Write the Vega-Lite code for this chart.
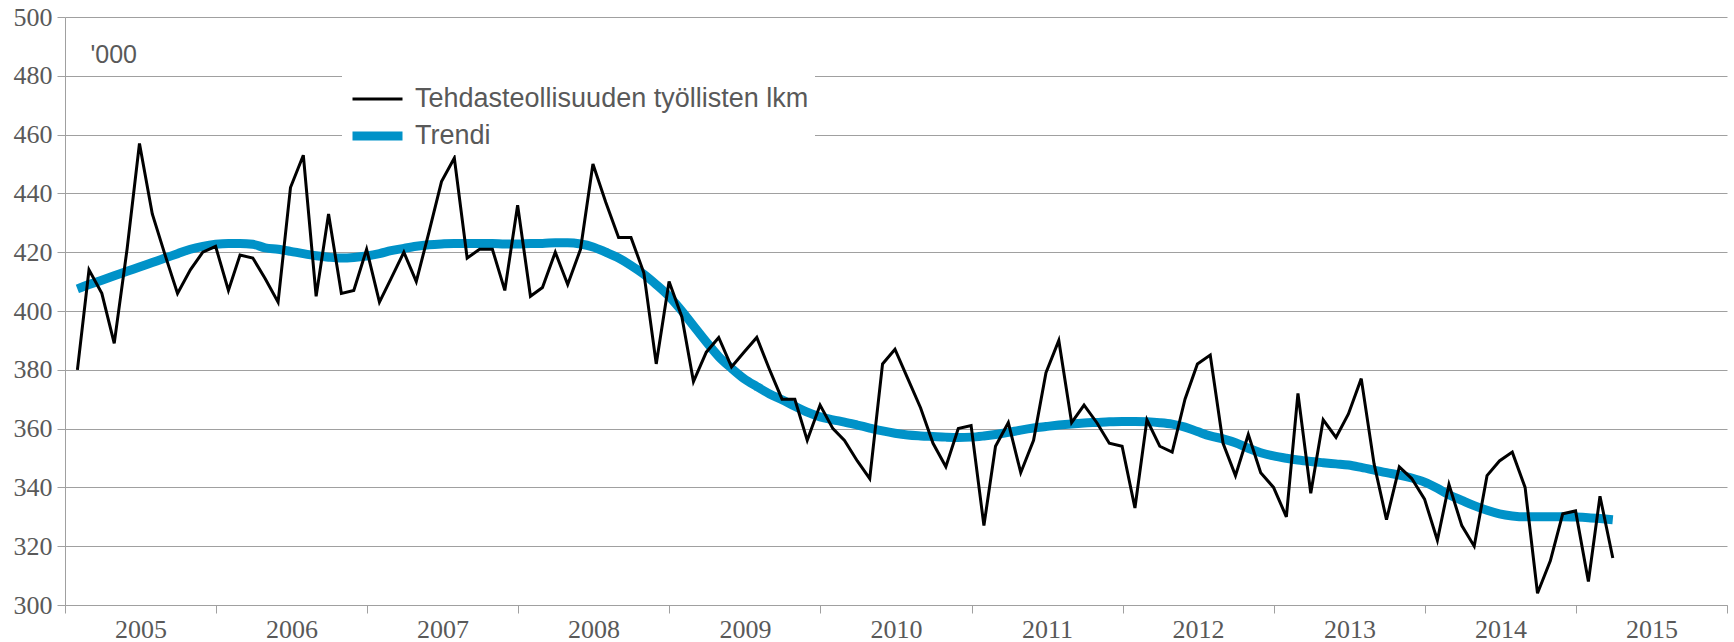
{
  "$schema": "https://vega.github.io/schema/vega-lite/v6.json",
  "width": 1662,
  "height": 588,
  "autosize": {"type": "none"},
  "padding": {"left": 65, "top": 17, "right": 7, "bottom": 37},
  "background": "white",
  "config": {
    "view": {"stroke": null},
    "axis": {"labelFont": "Liberation Serif", "labelFontSize": 26, "labelColor": "#595959", "domainColor": "#a0a0a0", "tickColor": "#a0a0a0", "gridColor": "#a0a0a0", "tickSize": 8}
  },
  "data": {"values": [
    {"date":"2005-01-31","lkm":380,"trendi":407.5},{"date":"2005-02-28","lkm":414,"trendi":409},{"date":"2005-03-31","lkm":406,"trendi":410.5},{"date":"2005-04-30","lkm":389,"trendi":412},{"date":"2005-05-31","lkm":421,"trendi":413.5},{"date":"2005-06-30","lkm":457,"trendi":415},{"date":"2005-07-31","lkm":433,"trendi":416.5},{"date":"2005-08-31","lkm":419,"trendi":418},{"date":"2005-09-30","lkm":406,"trendi":419.5},{"date":"2005-10-31","lkm":414,"trendi":421},{"date":"2005-11-30","lkm":420,"trendi":422},{"date":"2005-12-31","lkm":422,"trendi":422.7},
    {"date":"2006-01-31","lkm":407,"trendi":423},{"date":"2006-02-28","lkm":419,"trendi":423},{"date":"2006-03-31","lkm":418,"trendi":422.7},{"date":"2006-04-30","lkm":411,"trendi":421.5},{"date":"2006-05-31","lkm":403,"trendi":421},{"date":"2006-06-30","lkm":442,"trendi":420.3},{"date":"2006-07-31","lkm":453,"trendi":419.5},{"date":"2006-08-31","lkm":405,"trendi":418.8},{"date":"2006-09-30","lkm":433,"trendi":418.3},{"date":"2006-10-31","lkm":406,"trendi":418},{"date":"2006-11-30","lkm":407,"trendi":418.2},{"date":"2006-12-31","lkm":421,"trendi":418.7},
    {"date":"2007-01-31","lkm":403,"trendi":419.5},{"date":"2007-02-28","lkm":411,"trendi":420.5},{"date":"2007-03-31","lkm":420,"trendi":421.3},{"date":"2007-04-30","lkm":410,"trendi":422},{"date":"2007-05-31","lkm":427,"trendi":422.5},{"date":"2007-06-30","lkm":444,"trendi":422.8},{"date":"2007-07-31","lkm":452,"trendi":423},{"date":"2007-08-31","lkm":418,"trendi":423},{"date":"2007-09-30","lkm":421,"trendi":423},{"date":"2007-10-31","lkm":421,"trendi":423},{"date":"2007-11-30","lkm":407,"trendi":422.8},{"date":"2007-12-31","lkm":436,"trendi":422.8},
    {"date":"2008-01-31","lkm":405,"trendi":423},{"date":"2008-02-29","lkm":408,"trendi":423},{"date":"2008-03-31","lkm":420,"trendi":423.2},{"date":"2008-04-30","lkm":409,"trendi":423.2},{"date":"2008-05-31","lkm":421,"trendi":422.8},{"date":"2008-06-30","lkm":450,"trendi":421.8},{"date":"2008-07-31","lkm":437,"trendi":420},{"date":"2008-08-31","lkm":425,"trendi":418},{"date":"2008-09-30","lkm":425,"trendi":415.5},{"date":"2008-10-31","lkm":413,"trendi":412.5},{"date":"2008-11-30","lkm":382,"trendi":409},{"date":"2008-12-31","lkm":410,"trendi":405},
    {"date":"2009-01-31","lkm":398,"trendi":400},{"date":"2009-02-28","lkm":376,"trendi":395},{"date":"2009-03-31","lkm":386,"trendi":389.5},{"date":"2009-04-30","lkm":391,"trendi":384.5},{"date":"2009-05-31","lkm":381,"trendi":380.5},{"date":"2009-06-30","lkm":386,"trendi":377},{"date":"2009-07-31","lkm":391,"trendi":374.3},{"date":"2009-08-31","lkm":380,"trendi":371.8},{"date":"2009-09-30","lkm":370,"trendi":369.8},{"date":"2009-10-31","lkm":370,"trendi":367.6},{"date":"2009-11-30","lkm":356,"trendi":365.6},{"date":"2009-12-31","lkm":368,"trendi":364},
    {"date":"2010-01-31","lkm":360,"trendi":363},{"date":"2010-02-28","lkm":356,"trendi":362.2},{"date":"2010-03-31","lkm":349,"trendi":361.2},{"date":"2010-04-30","lkm":343,"trendi":360.2},{"date":"2010-05-31","lkm":382,"trendi":359.2},{"date":"2010-06-30","lkm":387,"trendi":358.4},{"date":"2010-07-31","lkm":377,"trendi":357.8},{"date":"2010-08-31","lkm":367,"trendi":357.5},{"date":"2010-09-30","lkm":355,"trendi":357.3},{"date":"2010-10-31","lkm":347,"trendi":357.1},{"date":"2010-11-30","lkm":360,"trendi":357},{"date":"2010-12-31","lkm":361,"trendi":357.1},
    {"date":"2011-01-31","lkm":327,"trendi":357.5},{"date":"2011-02-28","lkm":354,"trendi":358},{"date":"2011-03-31","lkm":362,"trendi":358.7},{"date":"2011-04-30","lkm":345,"trendi":359.5},{"date":"2011-05-31","lkm":356,"trendi":360.2},{"date":"2011-06-30","lkm":379,"trendi":360.7},{"date":"2011-07-31","lkm":390,"trendi":361.2},{"date":"2011-08-31","lkm":362,"trendi":361.6},{"date":"2011-09-30","lkm":368,"trendi":361.9},{"date":"2011-10-31","lkm":362,"trendi":362.1},{"date":"2011-11-30","lkm":355,"trendi":362.3},{"date":"2011-12-31","lkm":354,"trendi":362.4},
    {"date":"2012-01-31","lkm":333,"trendi":362.4},{"date":"2012-02-29","lkm":363,"trendi":362.3},{"date":"2012-03-31","lkm":354,"trendi":362},{"date":"2012-04-30","lkm":352,"trendi":361.5},{"date":"2012-05-31","lkm":370,"trendi":360.5},{"date":"2012-06-30","lkm":382,"trendi":359},{"date":"2012-07-31","lkm":385,"trendi":357.5},{"date":"2012-08-31","lkm":355,"trendi":356.5},{"date":"2012-09-30","lkm":344,"trendi":355.2},{"date":"2012-10-31","lkm":358,"trendi":353.3},{"date":"2012-11-30","lkm":345,"trendi":351.8},{"date":"2012-12-31","lkm":340,"trendi":350.7},
    {"date":"2013-01-31","lkm":330,"trendi":349.9},{"date":"2013-02-28","lkm":372,"trendi":349.3},{"date":"2013-03-31","lkm":338,"trendi":348.8},{"date":"2013-04-30","lkm":363,"trendi":348.4},{"date":"2013-05-31","lkm":357,"trendi":348},{"date":"2013-06-30","lkm":365,"trendi":347.6},{"date":"2013-07-31","lkm":377,"trendi":346.8},{"date":"2013-08-31","lkm":348,"trendi":345.9},{"date":"2013-09-30","lkm":329,"trendi":345},{"date":"2013-10-31","lkm":347,"trendi":344.2},{"date":"2013-11-30","lkm":343,"trendi":343.2},{"date":"2013-12-31","lkm":336,"trendi":341.8},
    {"date":"2014-01-31","lkm":322,"trendi":339.7},{"date":"2014-02-28","lkm":341,"trendi":337.5},{"date":"2014-03-31","lkm":327,"trendi":335.6},{"date":"2014-04-30","lkm":320,"trendi":333.8},{"date":"2014-05-31","lkm":344,"trendi":332.2},{"date":"2014-06-30","lkm":349,"trendi":331},{"date":"2014-07-31","lkm":352,"trendi":330.3},{"date":"2014-08-31","lkm":340,"trendi":330},{"date":"2014-09-30","lkm":304,"trendi":330},{"date":"2014-10-31","lkm":315,"trendi":330},{"date":"2014-11-30","lkm":331,"trendi":330},{"date":"2014-12-31","lkm":332,"trendi":329.9},
    {"date":"2015-01-31","lkm":308,"trendi":329.7},{"date":"2015-02-28","lkm":337,"trendi":329.4},{"date":"2015-03-31","lkm":316,"trendi":329}
  ]},
  "transform": [{"fold": ["lkm", "trendi"], "as": ["series", "value"]}],
  "encoding": {
    "x": {
      "field": "date", "type": "temporal",
      "scale": {"type": "utc", "domain": [{"year": 2005, "month": 1, "date": 1, "utc": true}, {"year": 2016, "month": 1, "date": 1, "utc": true}]},
      "axis": {
        "title": null, "grid": false,
        "values": [{"year":2005,"month":1,"date":1,"utc":true},{"year":2006,"month":1,"date":1,"utc":true},{"year":2007,"month":1,"date":1,"utc":true},{"year":2008,"month":1,"date":1,"utc":true},{"year":2009,"month":1,"date":1,"utc":true},{"year":2010,"month":1,"date":1,"utc":true},{"year":2011,"month":1,"date":1,"utc":true},{"year":2012,"month":1,"date":1,"utc":true},{"year":2013,"month":1,"date":1,"utc":true},{"year":2014,"month":1,"date":1,"utc":true},{"year":2015,"month":1,"date":1,"utc":true},{"year":2016,"month":1,"date":1,"utc":true}],
        "labelExpr": "utcFormat(datum.value, '%Y') == '2016' ? '' : utcFormat(datum.value, '%Y')",
        "labelOffset": 75.5, "labelAlign": "center", "labelFlush": false, "labelOverlap": false, "labelBaseline": "top", "labelPadding": 3
      }
    },
    "y": {
      "field": "value", "type": "quantitative",
      "scale": {"domain": [300, 500], "nice": false, "zero": false},
      "axis": {
        "values": [300, 320, 340, 360, 380, 400, 420, 440, 460, 480, 500],
        "grid": true, "labelPadding": 5,
        "title": "'000", "titleAngle": 0, "titleX": 25, "titleY": 45, "titleAlign": "left", "titleBaseline": "alphabetic",
        "titleFont": "Liberation Sans", "titleFontSize": 25, "titleFontWeight": "normal", "titleColor": "#595959"
      }
    },
    "color": {
      "field": "series", "type": "nominal",
      "scale": {"domain": ["lkm", "trendi"], "range": ["#000000", "#0092c8"]},
      "legend": {
        "orient": "none", "legendX": 277, "legendY": 53,
        "title": " ", "titleFontSize": 8, "titlePadding": 2,
        "symbolType": "stroke", "symbolSize": 2500, "clipHeight": 26, "rowPadding": 10,
        "labelFont": "Liberation Sans", "labelFontSize": 27, "labelColor": "#595959", "labelLimit": 600, "labelOffset": 8,
        "labelExpr": "datum.label == 'lkm' ? 'Tehdasteollisuuden työllisten lkm' : '\u00a0Trendi'",
        "fillColor": "white", "padding": 6
      }
    },
    "strokeWidth": {
      "field": "series", "type": "nominal",
      "scale": {"domain": ["lkm", "trendi"], "range": [3, 9]},
      "legend": {
        "orient": "none", "legendX": 277, "legendY": 53,
        "title": " ", "titleFontSize": 8, "titlePadding": 2,
        "symbolType": "stroke", "symbolSize": 2500, "clipHeight": 26, "rowPadding": 10,
        "labelFont": "Liberation Sans", "labelFontSize": 27, "labelColor": "#595959", "labelLimit": 600, "labelOffset": 8,
        "labelExpr": "datum.label == 'lkm' ? 'Tehdasteollisuuden työllisten lkm' : '\u00a0Trendi'",
        "fillColor": "white", "padding": 6
      }
    }
  },
  "layer": [
    {"transform": [{"filter": "datum.series == 'trendi'"}], "mark": {"type": "line", "interpolate": "monotone", "strokeCap": "butt"}},
    {"transform": [{"filter": "datum.series == 'lkm'"}], "mark": {"type": "line", "strokeJoin": "miter"}}
  ]
}
